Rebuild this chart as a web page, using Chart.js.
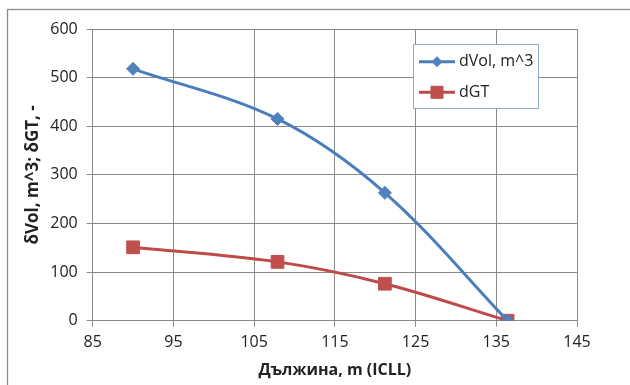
<!DOCTYPE html>
<html>
<head>
<meta charset="utf-8">
<script src="https://cdn.jsdelivr.net/npm/chart.js@4.4.0/dist/chart.umd.min.js"></script>
<style>
  html, body { margin: 0; padding: 0; background: #ffffff; }
  #wrap { width: 630px; height: 385px; position: relative; }
</style>
</head>
<body>
<div id="wrap"><canvas id="c" width="630" height="385"></canvas></div>
<script>
// ---- data ----
const lengths = [90, 107.9, 121.2, 136.4];
const dVol = [518, 415, 263, 0];
const dGT = [151, 121, 76, 0];
const seriesNames = ['dVol, m^3', 'dGT'];
const xTitle = 'Дължина, m (ICLL)';
const yTitle = 'δVol, m^3; δGT, -';
const xTicks = [85, 95, 105, 115, 125, 135, 145];
const yTicks = [0, 100, 200, 300, 400, 500, 600];

const FONT = "'Open Sans', 'DejaVu Sans', sans-serif";
const TXT = '#222222';
const GRID = '#8a8a8a';

function pts(xs, ys) { return xs.map((x, i) => ({ x: x, y: ys[i] })); }

const frame = {
  id: 'frame',
  beforeDraw(chart) {
    const ctx = chart.ctx;
    ctx.save();
    ctx.fillStyle = '#ffffff';
    ctx.fillRect(0, 0, chart.width, chart.height);
    ctx.strokeStyle = '#8c8c8c';
    ctx.lineWidth = 1.3;
    ctx.strokeRect(7.5, 9.5, 700, 500);
    ctx.restore();
  }
};

const boxLegend = {
  id: 'boxLegend',
  afterDraw(chart) {
    const ctx = chart.ctx;
    ctx.save();
    const bx = 413.5, by = 44.5, bw = 125, bh = 64;
    ctx.fillStyle = '#ffffff';
    ctx.fillRect(bx, by, bw, bh);
    ctx.strokeStyle = '#8eaad6';
    ctx.lineWidth = 1;
    ctx.strokeRect(bx, by, bw, bh);
    const rows = [61.7, 92.3];
    chart.data.datasets.forEach((ds, i) => {
      const y = rows[i];
      ctx.strokeStyle = ds.borderColor;
      ctx.lineWidth = ds.borderWidth;
      ctx.beginPath();
      ctx.moveTo(419, y);
      ctx.lineTo(455, y);
      ctx.stroke();
      ctx.fillStyle = ds.pointBackgroundColor;
      ctx.strokeStyle = ds.pointBorderColor;
      ctx.lineWidth = 1;
      Chart.helpers.drawPoint(ctx, {
        pointStyle: ds.pointStyle,
        radius: ds.legendRadius,
        borderWidth: 1
      }, 437, y);
      ctx.fillStyle = TXT;
      ctx.font = '16px ' + FONT;
      ctx.textBaseline = 'middle';
      ctx.textAlign = 'left';
      ctx.fillText(ds.label, 459, y);
    });
    ctx.restore();
  }
};

new Chart(document.getElementById('c'), {
  type: 'scatter',
  data: {
    datasets: [
      {
        label: seriesNames[0],
        data: pts(lengths, dVol),
        showLine: true,
        tension: 0.35,
        borderColor: '#4a7ebb',
        borderWidth: 3,
        pointStyle: 'rectRot',
        pointRadius: 6.5,
        legendRadius: 5,
        pointBackgroundColor: '#4f81bd',
        pointBorderColor: '#4f81bd',
        pointBorderWidth: 1
      },
      {
        label: seriesNames[1],
        data: pts(lengths, dGT),
        showLine: true,
        tension: 0.35,
        borderColor: '#be4b48',
        borderWidth: 3,
        pointStyle: 'rect',
        pointRadius: 9,
        legendRadius: 8.5,
        pointBackgroundColor: '#c0504d',
        pointBorderColor: '#c0504d',
        pointBorderWidth: 1
      }
    ]
  },
  options: {
    responsive: false,
    animation: false,
    devicePixelRatio: 1,
    layout: { padding: { top: 29, right: 53, left: 0, bottom: 0 } },
    plugins: {
      legend: { display: false },
      tooltip: { enabled: false }
    },
    scales: {
      x: {
        type: 'linear',
        min: 85, max: 145,
        afterBuildTicks(scale) { scale.ticks = xTicks.map(v => ({ value: v })); },
        afterFit(scale) { scale.height = 64.3; },
        grid: { color: GRID, lineWidth: 1, tickLength: 6, drawTicks: true },
        border: { color: GRID, width: 1 },
        ticks: { color: TXT, font: { family: FONT, size: 16 }, padding: 6, maxRotation: 0 },
        title: {
          display: true, text: xTitle, color: TXT,
          font: { family: FONT, size: 16, weight: 'bold' },
          padding: { top: 0, bottom: 5 }
        }
      },
      y: {
        type: 'linear',
        min: 0, max: 600,
        afterBuildTicks(scale) { scale.ticks = yTicks.map(v => ({ value: v })); },
        afterFit(scale) { scale.width = 92.7; },
        grid: { color: GRID, lineWidth: 1, tickLength: 6, drawTicks: true },
        border: { color: GRID, width: 1 },
        ticks: { color: TXT, font: { family: FONT, size: 16 }, padding: 9 },
        title: {
          display: true, text: yTitle, color: TXT,
          font: { family: FONT, size: 17, weight: 'bold' },
          padding: { top: 23, bottom: 0 }
        }
      }
    }
  },
  plugins: [frame, boxLegend]
});
</script>
</body>
</html>
